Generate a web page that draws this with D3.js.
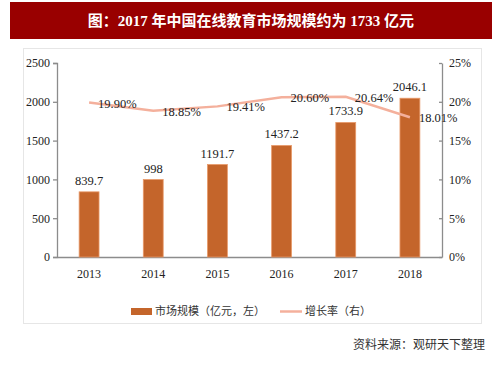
<!DOCTYPE html>
<html>
<head>
<meta charset="utf-8">
<script src="https://cdn.jsdelivr.net/npm/d3@7"></script>
<style>
  body { margin: 0; background: #fff; }
  svg { display: block; }
</style>
</head>
<body>
<div id="chart"></div>
<script>
// chart data
const years = ["2013", "2014", "2015", "2016", "2017", "2018"];
const marketSize = [839.7, 998, 1191.7, 1437.2, 1733.9, 2046.1];
const growthRate = [19.90, 18.85, 19.41, 20.60, 20.64, 18.01];
const leftTicks = [0, 500, 1000, 1500, 2000, 2500];
const rightTicks = [0, 5, 10, 15, 20, 25];

const width = 503, height = 378;
const margin = { top: 63, right: 61, bottom: 121, left: 57 };

const serif = "'Liberation Serif', 'Times New Roman', serif";
const cjk = "'Liberation Serif', 'Noto Sans CJK SC', serif";

const svg = d3.select("#chart")
    .append("svg")
    .attr("width", width)
    .attr("height", height);

// Title banner
svg.append("rect")
    .attr("x", 10).attr("y", 2)
    .attr("width", 482).attr("height", 37)
    .attr("fill", "#990000");

svg.append("text")
    .attr("x", 251).attr("y", 26)
    .attr("text-anchor", "middle")
    .attr("font-family", cjk)
    .attr("font-size", "15px")
    .attr("font-weight", "bold")
    .attr("fill", "#fff")
    .text("图：2017 年中国在线教育市场规模约为 1733 亿元");

// light frame round the chart
svg.append("rect")
    .attr("x", 23.5).attr("y", 48.5)
    .attr("width", 458).attr("height", 275)
    .attr("fill", "none")
    .attr("stroke", "#e6e6e6");

const x = d3.scaleBand()
    .domain(years)
    .range([margin.left, width - margin.right])
    .paddingInner(0.69)
    .paddingOuter(0.345);

const yLeft = d3.scaleLinear()
    .domain([0, 2500])
    .range([height - margin.bottom, margin.top]);

const yRight = d3.scaleLinear()
    .domain([0, 25])
    .range([height - margin.bottom, margin.top]);

// Axes
const axisColor = "#8c8c8c";

const gLeft = svg.append("g")
    .attr("transform", `translate(${margin.left},0)`)
    .call(d3.axisLeft(yLeft).tickValues(leftTicks).tickSize(4).tickPadding(3)
        .tickFormat(d3.format("d")));

const gRight = svg.append("g")
    .attr("transform", `translate(${width - margin.right},0)`)
    .call(d3.axisRight(yRight).tickValues(rightTicks).tickSize(0).tickPadding(7)
        .tickFormat(d => `${d}%`));

// small ticks on the left side of the right axis
gRight.selectAll(".tick").append("line")
    .attr("x1", -3).attr("x2", 0)
    .attr("stroke", axisColor);

const gBottom = svg.append("g")
    .attr("transform", `translate(0,${height - margin.bottom})`)
    .call(d3.axisBottom(x).tickSize(0).tickPadding(12));

[gLeft, gRight, gBottom].forEach(g => {
    g.selectAll("path, line").attr("stroke", axisColor).attr("stroke-width", 1.3);
    g.selectAll("text")
        .attr("font-family", serif)
        .attr("font-size", "12px")
        .attr("fill", "#222");
});

// Bars
const barColor = "#c4652b";
svg.selectAll(".bar")
    .data(years)
    .enter().append("rect")
    .attr("class", "bar")
    .attr("x", d => x(d))
    .attr("y", (d, i) => yLeft(marketSize[i]))
    .attr("width", x.bandwidth())
    .attr("height", (d, i) => yLeft(0) - yLeft(marketSize[i]))
    .attr("fill", barColor)
    .attr("stroke", "#e89a6a")
    .attr("stroke-width", 0.8);

svg.selectAll(".bar-label")
    .data(years)
    .enter().append("text")
    .attr("x", d => x(d) + x.bandwidth() / 2)
    .attr("y", (d, i) => yLeft(marketSize[i]) - 7)
    .attr("text-anchor", "middle")
    .attr("font-family", serif)
    .attr("font-size", "12.5px")
    .attr("fill", "#222")
    .text((d, i) => marketSize[i]);

// Growth line
const lineColor = "#f4b09c";
const line = d3.line()
    .x((d, i) => x(years[i]) + x.bandwidth() / 2)
    .y(d => yRight(d));

svg.append("path")
    .datum(growthRate)
    .attr("fill", "none")
    .attr("stroke", lineColor)
    .attr("stroke-width", 2.5)
    .attr("d", line);

svg.selectAll(".line-label")
    .data(growthRate)
    .enter().append("text")
    .attr("x", (d, i) => x(years[i]) + x.bandwidth() / 2 + 9)
    .attr("y", d => yRight(d) + 5)
    .attr("font-family", serif)
    .attr("font-size", "12.5px")
    .attr("fill", "#222")
    .text(d => `${d.toFixed(2)}%`);

// Legend
const legend = svg.append("g").attr("font-size", "11px").attr("fill", "#333");
legend.append("rect")
    .attr("x", 131).attr("y", 308)
    .attr("width", 21).attr("height", 7)
    .attr("fill", barColor);
legend.append("text")
    .attr("x", 155).attr("y", 315)
    .attr("font-family", "'Noto Sans CJK SC', sans-serif")
    .text("市场规模（亿元，左）");
legend.append("line")
    .attr("x1", 280).attr("x2", 302)
    .attr("y1", 311.5).attr("y2", 311.5)
    .attr("stroke", lineColor)
    .attr("stroke-width", 2.5);
legend.append("text")
    .attr("x", 305).attr("y", 315)
    .attr("font-family", "'Noto Sans CJK SC', sans-serif")
    .text("增长率（右）");

// Source note
svg.append("text")
    .attr("x", 485).attr("y", 349)
    .attr("text-anchor", "end")
    .attr("font-family", "'Noto Sans CJK SC', sans-serif")
    .attr("font-size", "12px")
    .attr("fill", "#333")
    .text("资料来源：观研天下整理");
</script>
</body>
</html>
